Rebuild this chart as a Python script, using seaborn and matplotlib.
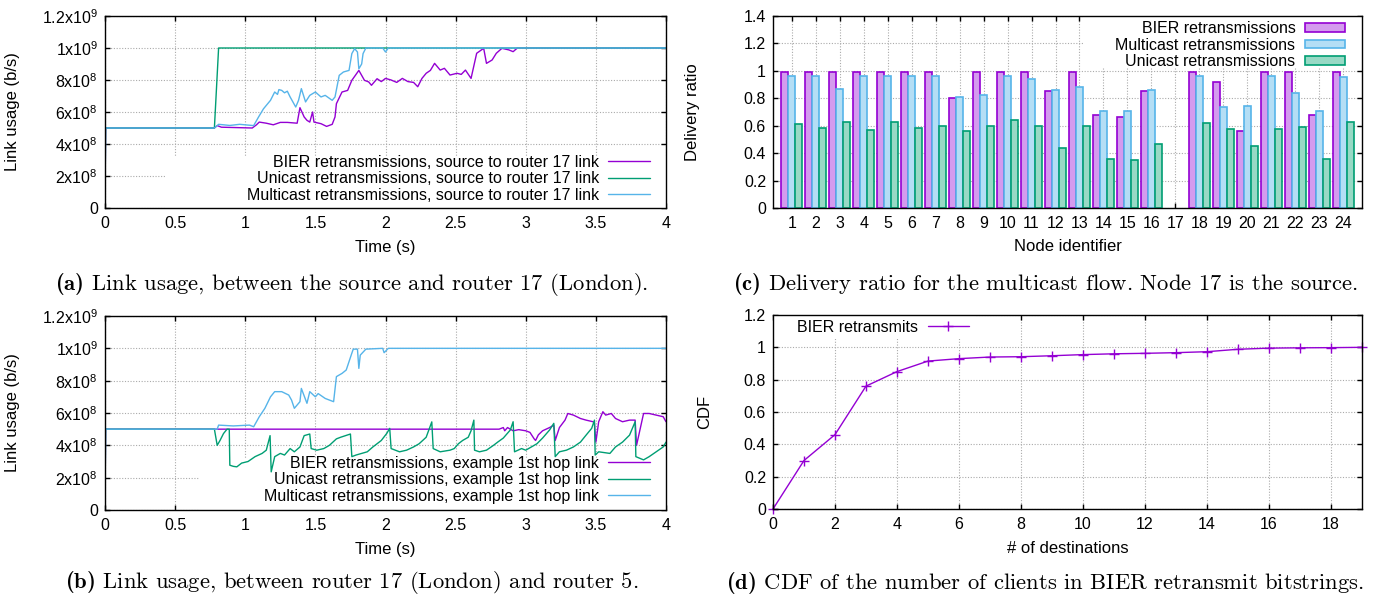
import numpy as np
import pandas as pd
import matplotlib
matplotlib.use("Agg")
import matplotlib.pyplot as plt
import seaborn as sns
from matplotlib.patches import Rectangle, Patch
from matplotlib.lines import Line2D

# ---------------- data ----------------
# (a) source -> router 17 link, values in units of 1e8 b/s
a_bier_t = [0, 0.004, 0.78, 0.80, 0.83, 1.05, 1.08, 1.10, 1.15, 1.20, 1.25, 1.30, 1.37, 1.39, 1.42, 1.44,
            1.46, 1.48, 1.49, 1.54, 1.58, 1.62, 1.64, 1.65, 1.69, 1.73, 1.76, 1.81, 1.85, 1.88, 1.90, 1.94,
            1.97, 2.00, 2.04, 2.08, 2.12, 2.16, 2.20, 2.23, 2.26, 2.29, 2.32, 2.35, 2.39, 2.42, 2.46, 2.51,
            2.54, 2.57, 2.61, 2.65, 2.70, 2.72, 2.76, 2.79, 2.83, 2.88, 2.91, 2.94, 4.00]
a_bier_v = [0, 5.0, 5.0, 5.15, 5.05, 5.0, 5.2, 5.37, 5.3, 5.2, 5.35, 5.35, 5.3, 6.27, 5.69, 5.48,
            5.37, 6.0, 5.37, 5.27, 5.1, 5.23, 5.69, 6.52, 7.25, 7.35, 7.98, 8.6, 7.98, 7.88, 7.67, 8.08,
            7.9, 8.1, 8.0, 7.85, 8.1, 7.9, 7.85, 7.58, 8.1, 8.42, 8.6, 9.04, 8.62, 8.73, 8.31, 8.42,
            8.35, 8.62, 8.1, 9.67, 9.98, 9.04, 9.25, 9.67, 9.98, 9.88, 9.77, 10.0, 10.0]
a_uni_t = [0, 0.004, 0.78, 0.81, 4.00]
a_uni_v = [0, 5.0, 5.0, 10.0, 10.0]
a_mc_t = [0, 0.004, 0.78, 0.81, 0.89, 0.96, 1.06, 1.095, 1.13, 1.18, 1.21, 1.23, 1.24, 1.26, 1.28, 1.30,
          1.32, 1.36, 1.38, 1.40, 1.43, 1.46, 1.50, 1.54, 1.57, 1.62, 1.64, 1.67, 1.70, 1.74, 1.76, 1.78,
          1.80, 1.81, 1.83, 1.84, 1.86, 1.98, 2.00, 2.02, 4.00]
a_mc_v = [0, 5.0, 5.0, 5.23, 5.16, 5.23, 5.15, 5.69, 6.2, 6.73, 7.25, 7.1, 7.4, 7.35, 7.2, 7.3,
          6.94, 6.31, 6.73, 7.46, 6.63, 7.04, 7.25, 6.94, 7.04, 6.73, 6.94, 8.29, 8.5, 8.6, 9.65, 9.96,
          9.75, 8.7, 9.0, 9.65, 10.0, 10.0, 9.75, 10.0, 10.0]

# (b) router 17 -> router 5 link, values in units of 1e8 b/s
b_bier_t = [0, 0.004, 2.81, 2.84, 2.85, 2.87, 2.91, 2.95, 3.00, 3.03, 3.06, 3.07, 3.09, 3.12, 3.17, 3.20,
            3.21, 3.24, 3.28, 3.30, 3.34, 3.39, 3.43, 3.48, 3.49, 3.50, 3.52, 3.55, 3.57, 3.61, 3.64, 3.69,
            3.74, 3.78, 3.79, 3.84, 3.88, 3.93, 3.98, 4.00]
b_bier_v = [0, 5.0, 5.0, 5.1, 4.9, 5.1, 4.9, 4.97, 4.9, 4.8, 4.4, 4.3, 4.65, 4.9, 5.1, 5.25,
            4.3, 5.1, 5.56, 5.97, 5.87, 5.66, 5.56, 5.46, 5.36, 4.2, 5.46, 6.08, 5.87, 5.97, 5.66, 5.46,
            5.56, 5.56, 4.0, 5.97, 5.97, 5.87, 5.77, 5.46]
b_uni_t = [0, 0.004, 0.78, 0.80, 0.82, 0.845, 0.87, 0.886, 0.89, 0.915, 0.94, 0.974, 1.02, 1.07, 1.12, 1.15,
           1.177, 1.185, 1.21, 1.25, 1.28, 1.32, 1.35, 1.39, 1.42, 1.46, 1.47, 1.51, 1.56, 1.60, 1.65, 1.68,
           1.75, 1.76, 1.79, 1.83, 1.87, 1.91, 1.97, 2.01, 2.03, 2.04, 2.10, 2.15, 2.20, 2.24, 2.29, 2.33,
           2.34, 2.39, 2.46, 2.49, 2.52, 2.55, 2.59, 2.61, 2.63, 2.635, 2.67, 2.72, 2.77, 2.80, 2.84, 2.89,
           2.91, 2.92, 2.97, 3.00, 3.04, 3.08, 3.12, 3.17, 3.20, 3.21, 3.24, 3.29, 3.34, 3.39, 3.43, 3.47,
           3.49, 3.495, 3.52, 3.60, 3.64, 3.69, 3.74, 3.78, 3.785, 3.84, 3.88, 3.93, 3.98, 4.00]
b_uni_v = [0, 5.0, 5.0, 4.0, 4.3, 4.73, 5.0, 5.0, 2.77, 2.7, 2.67, 2.9, 3.0, 3.3, 3.5, 3.7,
           4.6, 2.36, 3.3, 3.5, 3.4, 3.8, 3.6, 3.9, 4.6, 4.7, 3.8, 3.7, 3.8, 4.0, 4.4, 4.5,
           4.7, 3.3, 3.4, 3.5, 3.6, 3.9, 4.3, 4.75, 5.05, 3.8, 3.6, 3.7, 3.9, 4.1, 4.5, 5.45,
           3.8, 3.6, 3.7, 3.8, 4.1, 4.3, 4.5, 4.9, 5.56, 3.7, 3.6, 3.7, 4.0, 4.2, 4.45, 4.95,
           5.46, 3.6, 3.8, 3.7, 3.9, 4.1, 4.45, 4.95, 5.36, 3.3, 3.6, 3.7, 3.9, 4.2, 4.63, 5.05,
           5.56, 3.4, 3.6, 3.5, 3.9, 4.2, 4.63, 5.46, 3.3, 3.1, 3.3, 3.6, 3.9, 4.2]
b_mc_t = [0, 0.004, 0.80, 0.81, 0.915, 1.03, 1.06, 1.10, 1.14, 1.18, 1.21, 1.26, 1.31, 1.33, 1.35, 1.39,
          1.40, 1.44, 1.46, 1.50, 1.52, 1.57, 1.63, 1.65, 1.69, 1.72, 1.76, 1.77, 1.80, 1.81, 1.82, 1.86,
          1.98, 1.99, 2.02, 4.00]
b_mc_v = [0, 5.0, 5.0, 5.25, 5.2, 5.25, 5.15, 5.77, 6.29, 7.0, 7.32, 7.32, 7.11, 6.8, 6.29, 6.7,
          7.52, 6.6, 7.32, 7.0, 7.2, 6.9, 6.7, 8.25, 8.45, 8.66, 9.7, 9.95, 9.95, 8.76, 9.58, 9.95,
          10.0, 9.73, 10.0, 10.0]

# (c) delivery ratio per node (node 17 is the source)
nodes = list(range(1, 25))
bier_ratio = [0.99, 0.99, 0.99, 0.99, 0.99, 0.99, 0.99, 0.805, 0.99, 0.99, 0.99, 0.851, 0.99, 0.676, 0.666, 0.851,
              np.nan, 0.99, 0.919, 0.56, 0.99, 0.99, 0.676, 0.99]
mc_ratio = [0.965, 0.965, 0.866, 0.965, 0.965, 0.965, 0.965, 0.812, 0.826, 0.965, 0.94, 0.858, 0.885, 0.71, 0.71, 0.858,
            np.nan, 0.965, 0.739, 0.746, 0.965, 0.841, 0.71, 0.958]
uni_ratio = [0.615, 0.58, 0.63, 0.57, 0.63, 0.585, 0.595, 0.56, 0.60, 0.64, 0.60, 0.435, 0.598, 0.357, 0.35, 0.467,
             np.nan, 0.622, 0.576, 0.45, 0.574, 0.591, 0.357, 0.63]
schemes = ["BIER retransmissions", "Multicast retransmissions", "Unicast retransmissions"]

# (d) CDF of number of destinations
dests = list(range(0, 20))
cdf = [0.0, 0.30, 0.46, 0.76, 0.85, 0.915, 0.93, 0.94, 0.942, 0.948, 0.955, 0.96, 0.963, 0.967, 0.973, 0.988,
       0.995, 0.997, 0.998, 1.0]

time_ticks = [0, 0.5, 1, 1.5, 2, 2.5, 3, 3.5, 4]
time_labels = ["0", "0.5", "1", "1.5", "2", "2.5", "3", "3.5", "4"]
usage_ticks = [0, 2e8, 4e8, 6e8, 8e8, 1e9, 1.2e9]
usage_labels = ["0", r"2x10$^{8}$", r"4x10$^{8}$", r"6x10$^{8}$", r"8x10$^{8}$", r"1x10$^{9}$", r"1.2x10$^{9}$"]
ratio_ticks = [0, 0.2, 0.4, 0.6, 0.8, 1.0, 1.2, 1.4]
ratio_labels = ["0", "0.2", "0.4", "0.6", "0.8", "1", "1.2", "1.4"]
cdf_ticks = [0, 0.2, 0.4, 0.6, 0.8, 1.0, 1.2]
cdf_labels = ["0", "0.2", "0.4", "0.6", "0.8", "1", "1.2"]
dest_ticks = list(range(0, 19, 2))

# ---------------- style ----------------
PURPLE, GREEN, BLUE = "#9400d3", "#009e73", "#56b4e9"
FILL = {"BIER retransmissions": "#d49bee", "Multicast retransmissions": "#b4def5",
        "Unicast retransmissions": "#98d9c5"}
EDGE = {"BIER retransmissions": PURPLE, "Multicast retransmissions": BLUE,
        "Unicast retransmissions": GREEN}

sns.set_theme(style="white")
FS = 11.5
plt.rcParams.update({
    "font.family": ["Liberation Sans", "DejaVu Sans"],
    "mathtext.fontset": "custom",
    "mathtext.rm": "Liberation Sans",
    "mathtext.it": "Liberation Sans:italic",
    "mathtext.bf": "cmb10",
    "font.size": FS,
    "axes.linewidth": 1.0,
    "axes.edgecolor": "black",
    "axes.labelcolor": "black",
    "text.color": "black",
    "xtick.color": "black", "ytick.color": "black",
    "xtick.direction": "in", "ytick.direction": "in",
    "xtick.bottom": True, "ytick.left": True,
    "xtick.top": True, "ytick.right": True,
    "xtick.major.size": 3.5, "ytick.major.size": 3.5,
    "xtick.major.width": 1.0, "ytick.major.width": 1.0,
    "xtick.labelsize": FS, "ytick.labelsize": FS,
    "xtick.major.pad": 6, "ytick.major.pad": 5,
})

W, H = 1379, 597
fig = plt.figure(figsize=(W / 100, H / 100), dpi=100)


def rect(l, t, r, b):
    return [l / W, 1 - b / H, (r - l) / W, (b - t) / H]


def px(x, y):
    return (x / W, 1 - y / H)


def style_grid(ax):
    ax.set_axisbelow(True)
    ax.grid(True, color="#aaaaaa", linestyle=(0, (1, 1.5)), linewidth=0.8)


def cover(ax, x0, y0, x1, y1):
    ax.add_patch(Rectangle((x0, y0), x1 - x0, y1 - y0, transform=ax.transData,
                           facecolor="white", edgecolor="none", zorder=0.8))


def finish_spines(ax):
    for s in ax.spines.values():
        s.set_color("black"); s.set_linewidth(1.0); s.set_zorder(3)


LSP = 0.1


def usage_panel(ax, series, labels, leg_anchor, box):
    style_grid(ax)
    for (t, v), col in zip(series, [PURPLE, GREEN, BLUE]):
        df = pd.DataFrame({"t": t, "v": np.array(v) * 1e8})
        sns.lineplot(data=df, x="t", y="v", ax=ax, color=col, lw=1.0, estimator=None, sort=False, zorder=2)
    cover(ax, *box)
    ax.set_xlim(0, 4)
    ax.set_ylim(0, 1.2e9)
    ax.set_xticks(time_ticks, time_labels)
    ax.set_yticks(usage_ticks, usage_labels)
    ax.set_xlabel("Time (s)")
    ax.set_ylabel("Link usage (b/s)")
    ax.yaxis.set_label_coords(-0.152, 0.5)
    ax.xaxis.set_label_coords(0.5, -0.165)
    handles = [Line2D([], [], color=c, lw=1.0) for c in [PURPLE, GREEN, BLUE]]
    ax.legend(handles, labels, loc="lower right", bbox_to_anchor=leg_anchor, bbox_transform=fig.transFigure,
              frameon=False, markerfirst=False, handlelength=2.6, handletextpad=0.6, labelspacing=LSP,
              borderpad=0, borderaxespad=0, fontsize=FS)
    finish_spines(ax)


# (a)
axa = fig.add_axes(rect(105, 16, 666, 208))
usage_panel(axa, [(a_bier_t, a_bier_v), (a_uni_t, a_uni_v), (a_mc_t, a_mc_v)],
            ["BIER retransmissions, source to router 17 link",
             "Unicast retransmissions, source to router 17 link",
             "Multicast retransmissions, source to router 17 link"],
            px(650, 203), (0.43, 0, 4.0, 3.2e8))

# (b)
axb = fig.add_axes(rect(105, 316, 666, 510))
usage_panel(axb, [(b_bier_t, b_bier_v), (b_uni_t, b_uni_v), (b_mc_t, b_mc_v)],
            ["BIER retransmissions, example 1st hop link",
             "Unicast retransmissions, example 1st hop link",
             "Multicast retransmissions, example 1st hop link"],
            px(650, 504), (0.67, 0, 4.0, 3.2e8))

# (c)
axc = fig.add_axes(rect(773, 16, 1362, 208))
style_grid(axc)
df_c = pd.DataFrame({
    "node": nodes * 3,
    "ratio": bier_ratio + mc_ratio + uni_ratio,
    "scheme": [schemes[0]] * 24 + [schemes[1]] * 24 + [schemes[2]] * 24,
}).dropna()
sns.barplot(data=df_c, x="node", y="ratio", hue="scheme", hue_order=schemes,
            palette=[FILL[s] for s in schemes], native_scale=True, width=0.9, dodge=True,
            saturation=1, ax=axc, legend=False, zorder=2)
for cont, s in zip(axc.containers, schemes):
    for p in cont:
        p.set_edgecolor(EDGE[s]); p.set_linewidth(1.2)
cover(axc, 13.2, 1.03, 24.78, 1.4)
axc.set_xlim(0.22, 24.78)
axc.set_ylim(0, 1.4)
axc.set_xticks(nodes, [str(n) for n in nodes])
axc.set_yticks(ratio_ticks, ratio_labels)
axc.set_xlabel("Node identifier")
axc.set_ylabel("Delivery ratio")
axc.yaxis.set_label_coords(-0.124, 0.5)
axc.xaxis.set_label_coords(0.5, -0.16)
hc = [Patch(facecolor=FILL[s], edgecolor=EDGE[s], linewidth=1.2) for s in schemes]
axc.legend(hc, schemes, loc="upper right", bbox_to_anchor=px(1345, 21), bbox_transform=fig.transFigure,
           frameon=False, markerfirst=False, handlelength=2.5, handleheight=0.45, handletextpad=0.6,
           labelspacing=LSP, borderpad=0, borderaxespad=0, fontsize=FS)
finish_spines(axc)

# (d)
axd = fig.add_axes(rect(773, 315, 1362, 509))
style_grid(axd)
df_d = pd.DataFrame({"n": dests, "cdf": cdf})
sns.lineplot(data=df_d, x="n", y="cdf", ax=axd, color=PURPLE, lw=1.0, marker="+", markersize=6.5,
             markeredgewidth=1.0, markeredgecolor=PURPLE, estimator=None, clip_on=False, zorder=3)
cover(axd, 0, 1.05, 6.5, 1.2)
axd.set_xlim(0, 19)
axd.set_ylim(0, 1.2)
axd.set_xticks(dest_ticks, [str(d) for d in dest_ticks])
axd.set_yticks(cdf_ticks, cdf_labels)
axd.set_xlabel("# of destinations")
axd.set_ylabel("CDF")
axd.yaxis.set_label_coords(-0.104, 0.5)
axd.xaxis.set_label_coords(0.5, -0.165)
hd = [Line2D([], [], color=PURPLE, lw=1.0, marker="+", markersize=6.5, markeredgewidth=1.0)]
axd.legend(hd, ["BIER retransmits"], loc="upper left", bbox_to_anchor=px(797, 320), bbox_transform=fig.transFigure,
           frameon=False, markerfirst=False, handlelength=2.6, handletextpad=0.6, numpoints=1,
           borderpad=0, borderaxespad=0, fontsize=FS)
finish_spines(axd)

# captions
CAP = 16.3
fig.text(352 / W, 1 - 284 / H, r"$\mathbf{(a)}$ Link usage, between the source and router 17 (London).",
         family="cmr10", fontsize=CAP, ha="center", va="center")
fig.text(1046 / W, 1 - 284 / H, r"$\mathbf{(c)}$ Delivery ratio for the multicast flow. Node 17 is the source.",
         family="cmr10", fontsize=CAP, ha="center", va="center")
fig.text(352 / W, 1 - 583 / H, r"$\mathbf{(b)}$ Link usage, between router 17 (London) and router 5.",
         family="cmr10", fontsize=CAP, ha="center", va="center")
fig.text(1045 / W, 1 - 583 / H, r"$\mathbf{(d)}$ CDF of the number of clients in BIER retransmit bitstrings.",
         family="cmr10", fontsize=CAP, ha="center", va="center")

fig.savefig("out.png", dpi=100, facecolor="white")
